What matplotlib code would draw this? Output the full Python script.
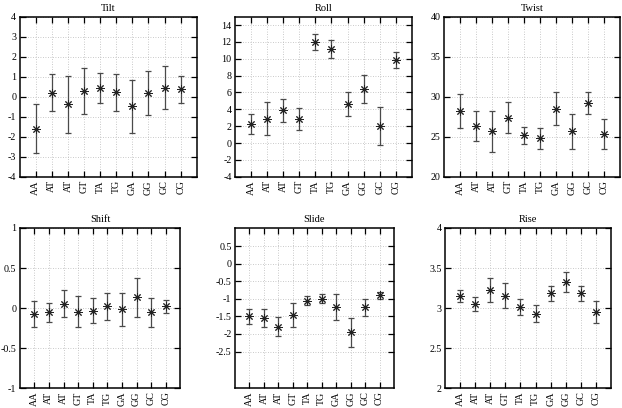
import matplotlib
matplotlib.use("Agg")
import matplotlib.pyplot as plt
from matplotlib.ticker import MultipleLocator

plt.rcParams["font.family"] = ["Liberation Serif", "DejaVu Serif"]
plt.rcParams["font.size"] = 7.2

steps = ["AA", "AT", "AT", "GT", "TA", "TG", "GA", "GG", "GC", "CG"]

tilt = [-1.60, 0.20, -0.37, 0.28, 0.45, 0.22, -0.47, 0.20, 0.45, 0.38]
tilt_err = [1.22, 0.93, 1.42, 1.14, 0.76, 0.92, 1.32, 1.09, 1.07, 0.68]

roll = [2.29, 2.88, 3.87, 2.85, 11.98, 11.15, 4.62, 6.40, 1.98, 9.88]
roll_err = [1.20, 1.95, 1.33, 1.27, 0.97, 1.05, 1.45, 1.62, 2.25, 0.95]

twist = [28.2, 26.33, 25.67, 27.38, 25.17, 24.79, 28.5, 25.67, 29.21, 25.29]
twist_err = [2.08, 1.85, 2.52, 1.90, 1.08, 1.35, 2.08, 2.15, 1.35, 1.88]

shift = [-0.075, -0.054, 0.054, -0.046, -0.033, 0.021, -0.017, 0.133, -0.054, 0.021]
shift_err = [0.16, 0.12, 0.167, 0.19, 0.16, 0.167, 0.21, 0.246, 0.18, 0.085]

slide = [-1.50, -1.55, -1.79, -1.47, -1.05, -0.99, -1.23, -1.95, -1.24, -0.90]
slide_err = [0.22, 0.255, 0.275, 0.34, 0.12, 0.135, 0.36, 0.41, 0.24, 0.09]

rise = [3.154, 3.054, 3.229, 3.154, 3.017, 2.929, 3.183, 3.325, 3.183, 2.95]
rise_err = [0.077, 0.088, 0.148, 0.158, 0.10, 0.106, 0.092, 0.125, 0.095, 0.133]

W, H = 622, 408
fig = plt.figure(figsize=(W / 100, H / 100), dpi=100)


def panel(box, title, vals, errs, ylim, step):
    x0, y0, x1, y1 = box
    ax = fig.add_axes([x0 / W, 1 - y1 / H, (x1 - x0) / W, (y1 - y0) / H])
    xs = list(range(1, len(steps) + 1))
    ax.errorbar(xs, vals, yerr=errs, fmt="none", ecolor="#4a4a4a",
                elinewidth=0.9, capsize=2.5, capthick=0.9)
    ax.plot(xs, vals, ls="none", marker=(8, 2, 0), ms=6, mew=0.7,
            color="#222222")
    ax.set_xlim(0, 11)
    ax.set_ylim(*ylim)
    ax.set_xticks(xs)
    ax.set_xticklabels(steps, rotation=90)
    ax.yaxis.set_major_locator(MultipleLocator(step))
    ax.yaxis.set_major_formatter(plt.FuncFormatter(lambda v, p: f"{v:g}"))
    ax.tick_params(direction="in", length=4.5, width=0.9, top=True,
                   right=True, pad=2.5, labelsize=7.2)
    ax.grid(True, ls=(0, (1, 2)), lw=0.6, color="#b8b8b8")
    for s in ax.spines.values():
        s.set_linewidth(1.1)
    ax.set_title(title, fontsize=7.5, pad=4)
    return ax


panel((19.6, 16.7, 196.8, 176.7), "Tilt", tilt, tilt_err, (-4, 4), 1)
panel((235, 16.7, 411.8, 176.7), "Roll", roll, roll_err, (-4, 15), 2)
panel((444, 16.7, 620, 176.7), "Twist", twist, twist_err, (20, 40), 5)
panel((19.7, 228, 180.3, 388), "Shift", shift, shift_err, (-1, 1), 0.5)
ax = panel((235, 228, 394, 388), "Slide", slide, slide_err, (-3.54, 1.02), 0.5)
ax.set_yticks([0.5, 0, -0.5, -1, -1.5, -2, -2.5])
panel((445, 228, 611, 388), "Rise", rise, rise_err, (2, 4), 0.5)

fig.savefig("out.png", dpi=100)
